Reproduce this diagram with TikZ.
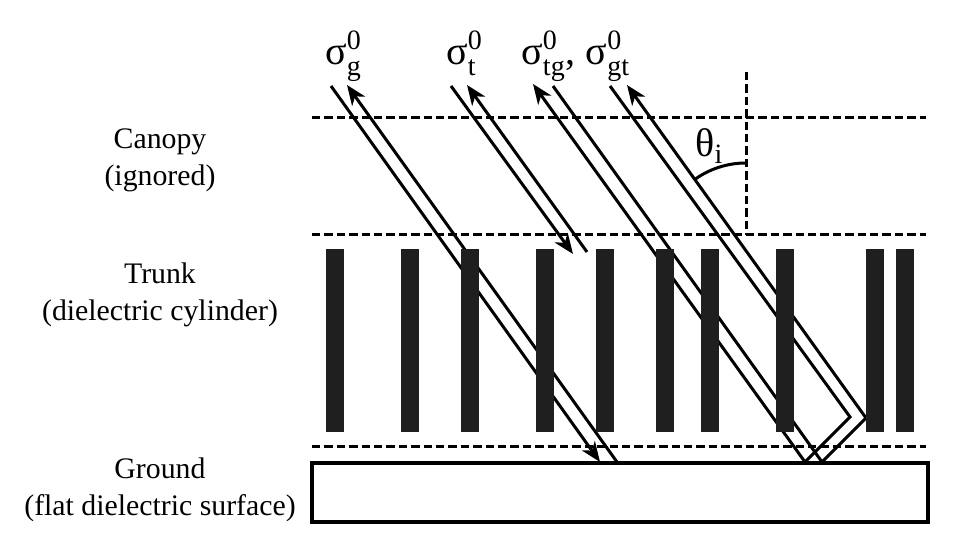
\documentclass[tikz,border=0pt]{standalone}
\usepackage{fontspec}
\setmainfont{Liberation Serif}
\usepackage{amsmath}
\usetikzlibrary{calc}
\usetikzlibrary{arrows.meta}

\newcommand{\sgm}[1]{σ$^{\text{0}}_{\text{#1}}$}

\begin{document}
\begin{tikzpicture}
    [x=0.5pt, y=0.5pt,
     ray/.style={line width=1.5pt, -{Stealth[length=10pt, width=8pt, inset=3pt]}},
     layer/.style={line width=1.5pt, dash pattern=on 4.2pt off 2pt},
     trunk/.style={rectangle, fill=black!88, inner sep=0pt, minimum width=9pt, minimum height=91.5pt},
     side/.style={align=center, font=\fontsize{14.9}{18.5}\selectfont},
     sym/.style={anchor=base west, inner sep=0pt, font=\fontsize{20}{24}\selectfont}]
    \useasboundingbox (0,0) rectangle (953,549);

    % layer borders
    \foreach \y in {431,314,102}{
        \draw[layer] (312,\y) -- (926,\y);
    }
    \draw[layer] (746,477) -- (746,314);
    \draw[line width=1.7pt] (312,27) rectangle (928,86);

    % labels on the left
    \node (canopy) [side] at (160,389) {Canopy\\(ignored)};
    \node (trunk) [side] at (160,254) {Trunk\\(dielectric cylinder)};
    \node (ground) [side] at (160,59) {Ground\\(flat dielectric surface)};

    % ends of the rays
    \coordinate (gin) at (331,463);   \coordinate (ging) at (600,87);
    \coordinate (goutg) at (617,87);  \coordinate (gout) at (347,464);
    \coordinate (tin) at (451,463);   \coordinate (tint) at (573,295);
    \coordinate (toutt) at (587,297); \coordinate (tout) at (467,464);
    \coordinate (tgin) at (553,463);  \coordinate (tgout) at (533,465);
    \coordinate (gtin) at (610,463);  \coordinate (gtout) at (627,464);
    \coordinate (va) at (850,132);    \coordinate (ga) at (805,87);
    \coordinate (vb) at (866,131);    \coordinate (gb) at (822,87);

    \draw[ray] (gin) -- (ging);
    \draw[ray] (goutg) -- (gout);
    \draw[ray] (tin) -- (tint);
    \draw[ray] (toutt) -- (tout);
    \draw[ray] (gtin) -- (va) -- (ga) -- (tgout);
    \draw[ray] (tgin) -- (gb) -- (vb) -- (gtout);

    % trunks
    \foreach \x in {326,401,461,536,596,656,701,776,866,896}{
        \node (bar\x) [trunk] at (\x+9,208.5) {};
    }

    % incidence angle
    \coordinate (inc) at (746,298);
    \draw[line width=1.5pt] (746,386) arc[start angle=90, end angle=126, radius=88];
    \node (theta) [sym] at (695,392) {θ$_{\text{i}}$};

    \node (sg) [sym] at (325,484) {\sgm{g}};
    \node (st) [sym] at (446,484) {\sgm{t}};
    \node (stg) [sym] at (521,484) {\sgm{tg}, \sgm{gt}};
\end{tikzpicture}
\end{document}
